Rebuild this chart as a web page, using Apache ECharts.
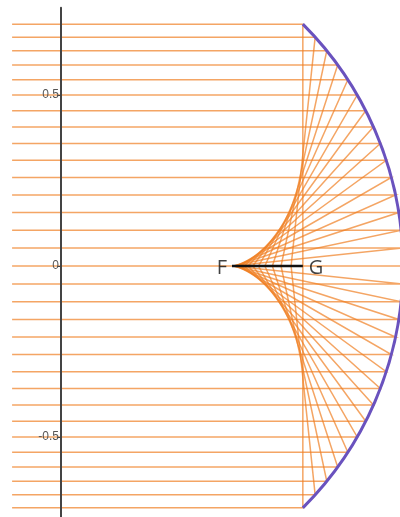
<!DOCTYPE html>
<html>
<head>
<meta charset="utf-8">
<script src="https://cdn.jsdelivr.net/npm/echarts@6/dist/echarts.min.js"></script>
<style>html,body{margin:0;padding:0;background:#fff}#c{width:400px;height:517px}</style>
</head>
<body>
<div id="c"></div>
<script>
// incidence angles of the parallel rays on the mirror (degrees)
var rayAngles = [-45,-42,-39,-36,-33,-30,-27,-24,-21,-18,-15,-12,-9,-6,-3,0,3,6,9,12,15,18,21,24,27,30,33,36,39,42,45];
var rayStartX = -0.143;
var mirror = {cx: 0, cy: 0, r: 1, startDeg: -45, endDeg: 45};
var focusSeg = [[0.5, 0], [0.7071, 0]];
var pointLabels = [{name: 'F', value: [0.5, 0], pos: 'left'}, {name: 'G', value: [0.7071, 0], pos: 'right'}];
var yTicks = [-0.5, 0, 0.5];

var rays = rayAngles.map(function (d) {
  var t = d * Math.PI / 180;
  var hx = Math.cos(t), hy = Math.sin(t);
  return {coords: [[rayStartX, hy], [hx, hy], [1 / (2 * Math.cos(t)), 0]]};
});

var xMin = -0.15, xMax = 1.0, gridLeft = 9.7, gridRight = -3;
var pxPerUnit = (400 - gridLeft - gridRight) / (xMax - xMin);

var chart = echarts.init(document.getElementById('c'));
chart.setOption({
  animation: false,
  grid: {left: gridLeft, right: gridRight, top: 7.8, bottom: -7.2, containLabel: false, outerBoundsMode: 'none'},
  xAxis: {type: 'value', min: xMin, max: xMax, show: false},
  yAxis: {
    type: 'value', min: -0.755, max: 0.755, z: 10,
    offset: xMin * pxPerUnit,
    axisLine: {show: true, onZero: false, lineStyle: {color: '#444', width: 2}},
    axisTick: {show: true, length: 4, customValues: yTicks, lineStyle: {color: '#444'}},
    axisLabel: {customValues: yTicks, margin: 2, color: '#555', fontSize: 12, fontFamily: 'Arial, Liberation Sans, sans-serif'},
    splitLine: {show: false}
  },
  series: [
    {
      type: 'lines', coordinateSystem: 'cartesian2d', polyline: true, z: 2,
      lineStyle: {color: '#f07f22', width: 1.5, opacity: 0.7},
      data: rays
    },
    {
      type: 'custom', coordinateSystem: 'cartesian2d', z: 3,
      data: [[mirror.cx, mirror.cy]],
      renderItem: function (params, api) {
        var c = api.coord([mirror.cx, mirror.cy]);
        var s = api.size([mirror.r, mirror.r]);
        return {
          type: 'arc',
          shape: {cx: c[0], cy: c[1], r: s[0], startAngle: mirror.startDeg * Math.PI / 180, endAngle: mirror.endDeg * Math.PI / 180, clockwise: true},
          style: {stroke: '#6a52be', lineWidth: 3, fill: null}
        };
      }
    },
    {
      type: 'line', data: focusSeg, symbol: 'none', z: 4,
      lineStyle: {color: '#111', width: 2.5}
    },
    {
      type: 'scatter', symbolSize: 0, z: 5,
      data: pointLabels.map(function (p) {
        return {name: p.name, value: p.value, label: {show: true, position: p.pos, distance: p.pos === 'left' ? 5 : 6, offset: [0, 2], formatter: p.name, color: '#111', fontSize: 20, fontFamily: 'Open Sans, sans-serif'}};
      })
    }
  ]
});
</script>
</body>
</html>
